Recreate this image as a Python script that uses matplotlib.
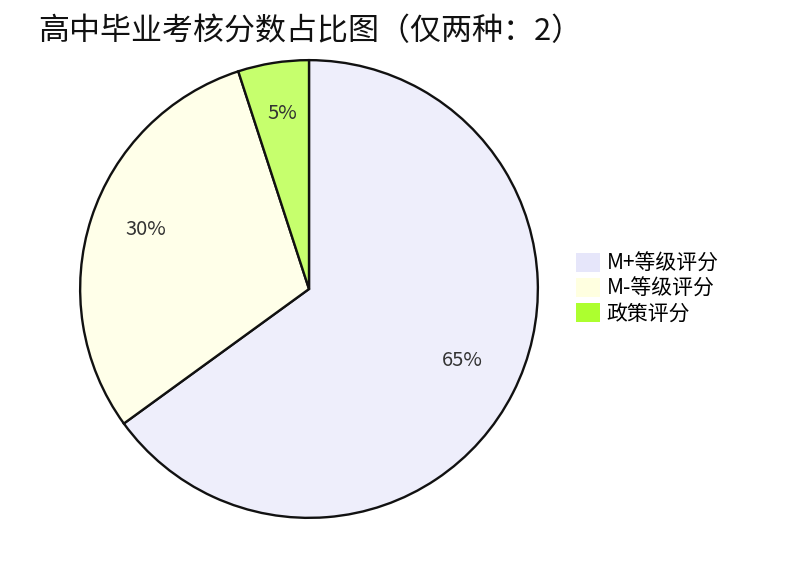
import matplotlib
matplotlib.use("Agg")
import matplotlib.pyplot as plt
from matplotlib.patches import Patch
from matplotlib.colors import to_rgb
from matplotlib.transforms import offset_copy

plt.rcParams['font.family'] = ['Noto Sans CJK SC', 'DejaVu Sans']

categories = ["M+等级评分", "M-等级评分", "政策评分"]
values = [65, 30, 5]
colors = ["#E6E6FA", "#FFFFE0", "#ADFF2F"]
title = "高中毕业考核分数占比图（仅两种：2）"

def lighten(c, a=0.7):
    rgb = to_rgb(c)
    return tuple(a * v + (1 - a) for v in rgb)

fills = [lighten(c) for c in colors]

W, H = 812, 578
fig = plt.figure(figsize=(W / 100, H / 100), dpi=100)
cx, cy, r = 309, 289, 230
ax = fig.add_axes([(cx - r) / W, (H - cy - r) / H, 2 * r / W, 2 * r / H])

wedges, texts, autotexts = ax.pie(
    values, colors=fills, startangle=90, counterclock=False,
    radius=1, autopct='%d%%', pctdistance=0.75,
    wedgeprops=dict(edgecolor='#111111', linewidth=1.7),
    textprops=dict(fontsize=14.5, color='#333333'))
ax.set_xlim(-1.005, 1.005)
ax.set_ylim(-1.005, 1.005)
ax.set_aspect('equal')
ax.axis('off')
shift = offset_copy(ax.transData, fig=fig, x=0, y=6, units='dots')
for t in autotexts:
    t.set_transform(shift)

fig.text(38 / W, 1 - 32 / H, title, fontsize=22.3, va='center', ha='left', color='#111111')

handles = [Patch(facecolor=c, edgecolor='none') for c in colors]
fig.legend(handles, categories, loc='upper left', bbox_to_anchor=(568 / W, 1 - 244 / H),
           frameon=False, fontsize=15, handlelength=1.15, handleheight=1.0,
           handletextpad=0.3, labelspacing=0.15, borderaxespad=0)

fig.savefig("out.png", dpi=100)
